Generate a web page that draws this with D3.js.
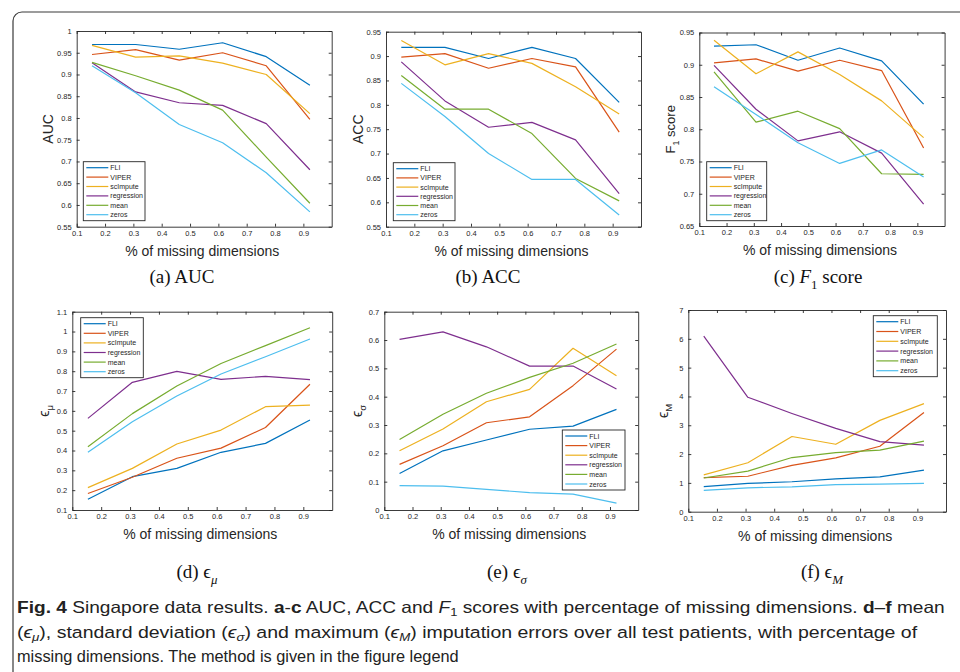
<!DOCTYPE html>
<meta charset="utf-8">
<head>
<style>
  body { margin: 0; background: #fff; }
  svg { display: block; }
</style>
</head>
<body>

<!-- load the d3.js library -->
<script src="https://d3js.org/d3.v7.min.js"></script>

<script>

// fraction of missing dimensions (x values shared by all panels)
var xVals = [0.154, 0.308, 0.462, 0.615, 0.769, 0.923];
var xTicks = [0.1, 0.2, 0.3, 0.4, 0.5, 0.6, 0.7, 0.8, 0.9];

var methods = ["FLI", "VIPER", "scImpute", "regression", "mean", "zeros"];
var colors = ["#0072BD", "#D95319", "#EDB120", "#7E2F8E", "#77AC30", "#4DBEEE"];

// rows follow the order of methods
var aucValues = [
  [0.969, 0.969, 0.958, 0.973, 0.941, 0.875],
  [0.946, 0.957, 0.933, 0.950, 0.920, 0.797],
  [0.967, 0.940, 0.943, 0.926, 0.900, 0.810],
  [0.927, 0.860, 0.835, 0.829, 0.787, 0.681],
  [0.928, 0.897, 0.864, 0.818, 0.710, 0.604],
  [0.920, 0.858, 0.785, 0.743, 0.674, 0.584]
];
var accValues = [
  [0.918, 0.918, 0.895, 0.918, 0.895, 0.805],
  [0.898, 0.905, 0.875, 0.895, 0.878, 0.744],
  [0.932, 0.882, 0.905, 0.885, 0.837, 0.781],
  [0.888, 0.808, 0.754, 0.764, 0.728, 0.618],
  [0.860, 0.791, 0.791, 0.741, 0.649, 0.603],
  [0.844, 0.776, 0.700, 0.647, 0.647, 0.574]
];
var f1Values = [
  [0.929, 0.931, 0.907, 0.926, 0.906, 0.839],
  [0.903, 0.909, 0.890, 0.907, 0.891, 0.771],
  [0.938, 0.886, 0.920, 0.885, 0.844, 0.787],
  [0.899, 0.831, 0.782, 0.796, 0.763, 0.684],
  [0.889, 0.811, 0.828, 0.801, 0.731, 0.730],
  [0.866, 0.823, 0.779, 0.747, 0.768, 0.726]
];
var muValues = [
  [0.154, 0.268, 0.310, 0.391, 0.436, 0.554],
  [0.183, 0.265, 0.361, 0.412, 0.516, 0.734],
  [0.213, 0.310, 0.433, 0.503, 0.621, 0.629],
  [0.562, 0.744, 0.799, 0.759, 0.774, 0.757],
  [0.419, 0.586, 0.725, 0.839, 0.929, 1.019],
  [0.391, 0.545, 0.675, 0.786, 0.873, 0.962]
];
var sigmaValues = [
  [0.129, 0.209, 0.247, 0.285, 0.296, 0.355],
  [0.161, 0.227, 0.308, 0.329, 0.439, 0.568],
  [0.209, 0.286, 0.382, 0.426, 0.571, 0.474],
  [0.602, 0.629, 0.576, 0.508, 0.508, 0.427],
  [0.249, 0.338, 0.412, 0.468, 0.518, 0.586],
  [0.086, 0.084, 0.073, 0.061, 0.056, 0.024]
];
var maxValues = [
  [0.87, 0.98, 1.04, 1.14, 1.21, 1.44],
  [1.18, 1.23, 1.61, 1.87, 2.27, 3.44],
  [1.28, 1.70, 2.61, 2.34, 3.17, 3.75],
  [6.09, 3.97, 3.41, 2.89, 2.43, 2.31],
  [1.17, 1.41, 1.88, 2.05, 2.14, 2.45],
  [0.74, 0.83, 0.86, 0.94, 0.96, 0.98]
];

var aucTicks = [0.55, 0.6, 0.65, 0.7, 0.75, 0.8, 0.85, 0.9, 0.95, 1];
var accTicks = [0.55, 0.6, 0.65, 0.7, 0.75, 0.8, 0.85, 0.9, 0.95];
var f1Ticks = [0.65, 0.7, 0.75, 0.8, 0.85, 0.9, 0.95];
var muTicks = [0.1, 0.2, 0.3, 0.4, 0.5, 0.6, 0.7, 0.8, 0.9, 1, 1.1];
var sigmaTicks = [0, 0.1, 0.2, 0.3, 0.4, 0.5, 0.6, 0.7];
var maxTicks = [0, 1, 2, 3, 4, 5, 6, 7];

var ink = "#262626";

var panels = [
  {values: aucValues, ticks: aucTicks, left: 76.7, right: 331.7, top: 31, bottom: 226.7,
   legend: [83.3, 161.7, 145, 220.7], ylx: 47.5,
   ylabel: [{t: "AUC"}], cx: 182, cy: 283, cap: [{t: "(a) AUC"}]},
  {values: accValues, ticks: accTicks, left: 386, right: 641, top: 31.7, bottom: 226.7,
   legend: [393.3, 162.7, 455, 220.7], ylx: 358.3,
   ylabel: [{t: "ACC"}], cx: 488, cy: 283, cap: [{t: "(b) ACC"}]},
  {values: f1Values, ticks: f1Ticks, left: 699.3, right: 944.6, top: 32.5, bottom: 226,
   legend: [706.7, 161.7, 766.7, 220.7], ylx: 670,
   ylabel: [{t: "F"}, {t: "1", sub: true}, {t: " score"}], ysize: 13,
   cx: 818, cy: 283, cap: [{t: "(c) "}, {t: "F", i: true}, {t: "1", sub: true}, {t: " score"}]},
  {values: muValues, ticks: muTicks, left: 72.3, right: 332.2, top: 311.7, bottom: 510,
   legend: [80.7, 317.7, 143.3, 377.7], ylx: 44,
   ylabel: [{t: "ϵ"}, {t: "μ", sub: true}], cx: 197, cy: 578,
   cap: [{t: "(d) ϵ"}, {t: "μ", sub: true, i: true}]},
  {values: sigmaValues, ticks: sigmaTicks, left: 384.3, right: 638.2, top: 311.7, bottom: 510,
   legend: [562.3, 430, 625, 490], ylx: 357,
   ylabel: [{t: "ϵ"}, {t: "σ", sub: true}], cx: 507, cy: 578,
   cap: [{t: "(e) ϵ"}, {t: "σ", sub: true, i: true}]},
  {values: maxValues, ticks: maxTicks, left: 688.3, right: 946, top: 310, bottom: 511.7,
   legend: [873.3, 315.7, 937.3, 376.7], ylx: 663,
   ylabel: [{t: "ϵ"}, {t: "M", sub: true}], cx: 822, cy: 578,
   cap: [{t: "(f) ϵ"}, {t: "M", sub: true, i: true}]}
];

var svg = d3.select("body").append("svg")
  .attr("width", 960)
  .attr("height", 672);

// frame round the figure and caption
svg.append("path")
  .attr("d", "M13,672 V21 A9,9 0 0 1 22,12 H960")
  .attr("fill", "none")
  .attr("stroke", "#3a3a3a")
  .attr("stroke-width", 1.2);

// writes text pieces, subscripts get a smaller size and a dy shift
function writeParts(text, parts, size, lift) {
  var shift = 0;
  parts.forEach(function(p) {
    var ts = text.append("tspan").text(p.t);
    var want = p.sub ? size * (lift || 0.3) : 0;
    if (want != shift) { ts.attr("dy", want - shift); shift = want; }
    if (p.sub) ts.attr("font-size", size * 0.68);
    if (p.i) ts.attr("font-style", "italic");
    if (p.b) ts.attr("font-weight", "bold");
  });
}

function styleAxis(g) {
  g.attr("color", ink)
    .attr("font-size", 7.5)
    .attr("font-family", "'Liberation Sans', Arial, sans-serif");
  g.select(".domain").attr("stroke-width", 0.9);
  g.selectAll(".tick line").attr("stroke-width", 0.9);
}

panels.forEach(function(p) {
  var x = d3.scaleLinear().domain([0.1, 1]).range([p.left, p.right]);
  var y = d3.scaleLinear()
    .domain([p.ticks[0], p.ticks[p.ticks.length - 1]])
    .range([p.bottom, p.top]);
  var g = svg.append("g");

  g.append("g")
    .attr("transform", "translate(0," + p.bottom + ")")
    .call(d3.axisBottom(x).tickValues(xTicks).tickSize(-3).tickSizeOuter(0).tickPadding(4)
      .tickFormat(function(d) { return String(d); }))
    .call(styleAxis);
  g.append("g")
    .attr("transform", "translate(0," + p.top + ")")
    .call(d3.axisTop(x).tickValues(xTicks).tickSize(-3).tickSizeOuter(0).tickFormat(""))
    .call(styleAxis);
  g.append("g")
    .attr("transform", "translate(" + p.left + ",0)")
    .call(d3.axisLeft(y).tickValues(p.ticks).tickSize(-3).tickSizeOuter(0).tickPadding(5)
      .tickFormat(function(d) { return String(d); }))
    .call(styleAxis);
  g.append("g")
    .attr("transform", "translate(" + p.right + ",0)")
    .call(d3.axisRight(y).tickValues(p.ticks).tickSize(-3).tickSizeOuter(0).tickFormat(""))
    .call(styleAxis);

  var line = d3.line()
    .x(function(d, i) { return x(xVals[i]); })
    .y(function(d) { return y(d); });

  g.selectAll("path.series")
    .data(p.values)
    .enter().append("path")
    .attr("class", "series")
    .attr("d", line)
    .attr("fill", "none")
    .attr("stroke", function(d, i) { return colors[i]; })
    .attr("stroke-width", 1.2)
    .attr("stroke-linejoin", "round");

  // x label
  g.append("text")
    .attr("x", (p.left + p.right) / 2 - 2)
    .attr("y", p.bottom + 29)
    .attr("text-anchor", "middle")
    .attr("font-family", "'Liberation Sans', Arial, sans-serif")
    .attr("font-size", 14)
    .attr("fill", ink)
    .text("% of missing dimensions");

  // y label
  var ysize = p.ysize || 14;
  var yl = g.append("text")
    .attr("transform", "translate(" + (p.ylx + 5) + "," + ((p.top + p.bottom) / 2) + ") rotate(-90)")
    .attr("text-anchor", "middle")
    .attr("font-family", "'Liberation Sans', Arial, sans-serif")
    .attr("font-size", ysize)
    .attr("fill", ink);
  writeParts(yl, p.ylabel, ysize);

  // legend
  var lb = p.legend;
  var lg = g.append("g");
  lg.append("rect")
    .attr("x", lb[0]).attr("y", lb[1])
    .attr("width", lb[2] - lb[0]).attr("height", lb[3] - lb[1])
    .attr("fill", "#fff")
    .attr("stroke", ink)
    .attr("stroke-width", 0.9);
  var step = (lb[3] - lb[1] - 12) / 5;
  methods.forEach(function(m, i) {
    var ry = lb[1] + 6 + i * step;
    lg.append("line")
      .attr("x1", lb[0] + 3).attr("x2", lb[0] + 25)
      .attr("y1", ry).attr("y2", ry)
      .attr("stroke", colors[i])
      .attr("stroke-width", 1.2);
    lg.append("text")
      .attr("x", lb[0] + 27)
      .attr("y", ry + 2.5)
      .attr("font-family", "'Liberation Sans', Arial, sans-serif")
      .attr("font-size", 7)
      .attr("fill", ink)
      .text(m);
  });

  // sub caption
  var sc = svg.append("text")
    .attr("x", p.cx)
    .attr("y", p.cy)
    .attr("text-anchor", "middle")
    .attr("font-family", "'Liberation Serif', 'DejaVu Serif', serif")
    .attr("font-size", 19)
    .attr("fill", "#111");
  writeParts(sc, p.cap, 19);
});

// figure caption
var captionLines = [
  [{t: "Fig. 4", b: true}, {t: "  Singapore data results. "}, {t: "a", b: true}, {t: "-"}, {t: "c", b: true},
   {t: " AUC, ACC and "}, {t: "F", i: true}, {t: "1", sub: true}, {t: " scores with percentage of missing dimensions. "},
   {t: "d", b: true}, {t: "–"}, {t: "f", b: true}, {t: " mean"}],
  [{t: "("}, {t: "ϵ", i: true}, {t: "μ", sub: true, i: true}, {t: "), standard deviation ("}, {t: "ϵ", i: true},
   {t: "σ", sub: true, i: true}, {t: ") and maximum ("}, {t: "ϵ", i: true}, {t: "M", sub: true, i: true},
   {t: ") imputation errors over all test patients, with percentage of"}],
  [{t: "missing dimensions. The method is given in the figure legend"}]
];
var captionWidths = [928, 901, 442];

// narrow the caption by a horizontal scale, so that each line ends where it does in print
captionLines.forEach(function(parts, i) {
  var t = svg.append("text")
    .attr("x", 0)
    .attr("y", 0)
    .attr("font-family", "'Liberation Sans', Arial, sans-serif")
    .attr("font-size", 16.5)
    .attr("fill", "#222");
  writeParts(t, parts, 16.5, 0.2);
  var natural = t.node().getComputedTextLength();
  var s = captionWidths[i] / natural;
  t.attr("transform", "translate(17," + (613 + i * 24.5) + ") scale(" + s + ",1)");
});

</script>
</body>
